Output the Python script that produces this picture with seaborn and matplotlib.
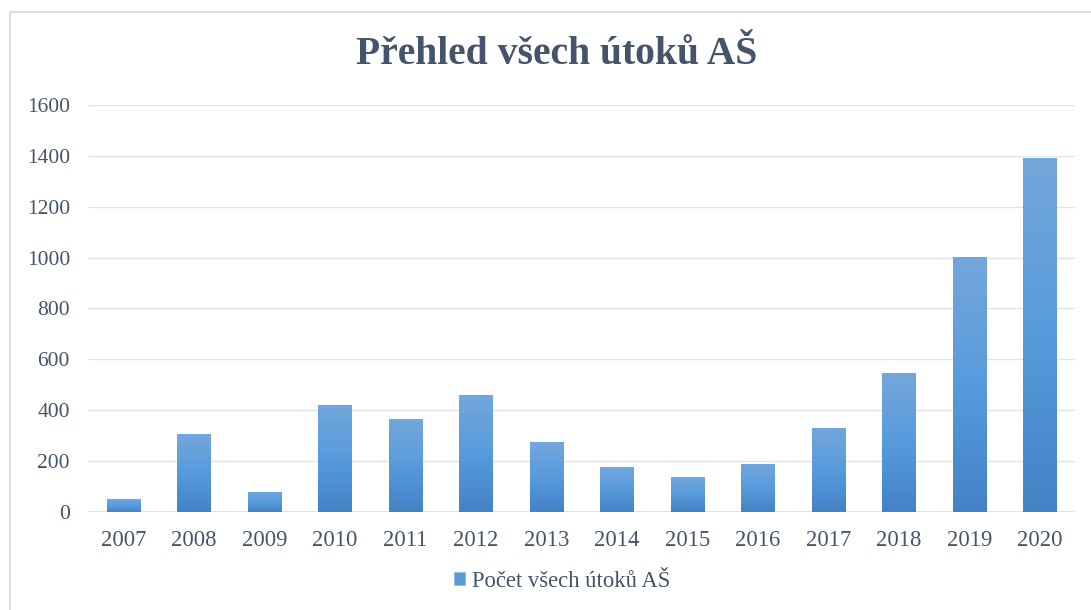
import numpy as np
import pandas as pd
import seaborn as sns
import matplotlib.pyplot as plt
from matplotlib.colors import LinearSegmentedColormap
from matplotlib.patches import Rectangle
from matplotlib.lines import Line2D

# data
roky = ['2007', '2008', '2009', '2010', '2011', '2012', '2013',
        '2014', '2015', '2016', '2017', '2018', '2019', '2020']
pocet = [50, 307, 80, 421, 366, 460, 275, 176, 139, 189, 329, 546, 1002, 1392]
y_ticks = [0, 200, 400, 600, 800, 1000, 1200, 1400, 1600]

sns.set_style('white')
plt.rcParams['font.family'] = ['Liberation Serif', 'DejaVu Serif']

df = pd.DataFrame({'rok': roky, 'pocet': pocet})

fig = plt.figure(figsize=(10.91, 6.10), dpi=100)
ax = fig.add_axes([0.0807, 0.1607, 0.9046, 0.6672])

sns.barplot(x='rok', y='pocet', data=df, color='#5B9BD5', width=0.47,
            saturation=1, ax=ax, zorder=3)

# gradient fill, lighter at the top of each bar
grad = LinearSegmentedColormap.from_list('g', ['#4283C6', '#579BDD', '#74A7DB'])
g = np.linspace(0, 1, 256).reshape(-1, 1)
for p in ax.patches:
    x0, y0 = p.get_x(), p.get_y()
    w, h = p.get_width(), p.get_height()
    im = ax.imshow(g, cmap=grad, aspect='auto', origin='lower',
                   extent=[x0, x0 + w, y0, y0 + h], zorder=4)
    im.set_clip_path(p)
    p.set_edgecolor('#8DB8E6')
    p.set_linewidth(0.6)

ax.set_xlim(-0.5, len(roky) - 0.5)
ax.set_ylim(0, 1600)
ax.set_yticks(y_ticks)
ax.yaxis.grid(True, color='#E0E3EA', linewidth=1.0, zorder=0)
ax.set_axisbelow(True)
for s in ax.spines.values():
    s.set_visible(False)
ax.axhline(0, color='#DADDE5', linewidth=1.2, zorder=2)
ax.tick_params(axis='x', length=0, labelsize=16.3, labelcolor='#44546A', pad=13)
ax.tick_params(axis='y', length=0, labelsize=15.5, labelcolor='#44546A', pad=13)
ax.set_xlabel('')
ax.set_ylabel('')

fig.text(0.51, 0.91, 'Přehled všech útoků AŠ', ha='center', va='center',
         fontsize=28.5, fontweight='bold', color='#44546A')

handle = Rectangle((0, 0), 1, 1, facecolor='#5B9BD5', edgecolor='#8DB8E6', linewidth=0.6)
fig.legend([handle], ['Počet všech útoků AŠ'], loc='center', bbox_to_anchor=(0.515, 0.047),
           frameon=False, fontsize=16.3, labelcolor='#44546A',
           handlelength=0.5, handleheight=0.5, handletextpad=0.3)

# light frame around the chart
fig.add_artist(Line2D([0.009, 1.0], [0.980, 0.980], color='#DADDE5', linewidth=1.5))
fig.add_artist(Line2D([0.009, 0.009], [0.0, 0.980], color='#DADDE5', linewidth=1.5))

plt.savefig('out.png', dpi=100)
